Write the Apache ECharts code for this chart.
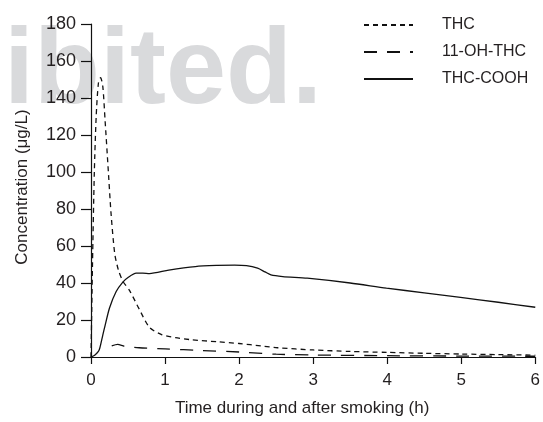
<!DOCTYPE html>
<html><head><meta charset="utf-8">
<script src="https://cdn.jsdelivr.net/npm/echarts@6/dist/echarts.min.js"></script>
<style>html,body{margin:0;padding:0;background:#fff}#c{width:543px;height:422px}</style>
</head><body><div id="c"></div>
<script>
var seriesNames = ['THC', '11-OH-THC', 'THC-COOH'];
var xTicks = [0, 1, 2, 3, 4, 5, 6];
var yTicks = [0, 20, 40, 60, 80, 100, 120, 140, 160, 180];

var thcTime = [0, 0.02, 0.045, 0.07, 0.1, 0.13, 0.16, 0.19, 0.23, 0.27, 0.32, 0.37, 0.43, 0.52, 0.65, 0.79, 0.96, 1.14, 1.36, 1.72, 2.0, 2.3, 2.52, 3.0, 3.5, 4.0, 4.5, 5.0, 5.5, 6.0];
var thcConc = [0, 50, 100, 130, 148, 151, 146, 128, 103, 78, 56, 47, 41, 36, 26, 16, 12, 10.5, 9.3, 8.2, 7.3, 6, 5, 3.8, 3, 2.5, 2, 1.6, 1.3, 1];

var ohTime = [0.28, 0.36, 0.45, 0.65, 1.0, 1.5, 2.0, 2.5, 3.0, 4.0, 5.0, 6.0];
var ohConc = [6.0, 6.8, 5.8, 5.0, 4.4, 3.5, 2.7, 1.5, 1.1, 0.7, 0.5, 0.4];

var coohTime = [0, 0.05, 0.1, 0.12, 0.16, 0.19, 0.25, 0.34, 0.43, 0.5, 0.61, 0.7, 0.79, 1.05, 1.41, 1.7, 1.94, 2.1, 2.25, 2.35, 2.43, 2.59, 2.92, 3.5, 3.99, 4.5, 4.99, 5.5, 6.0];
var coohConc = [0, 1, 3, 5, 12, 17, 26.5, 35.4, 40.5, 43, 45.3, 45.3, 45.1, 47, 48.9, 49.5, 49.7, 49.4, 48, 46, 44.4, 43.5, 42.6, 40, 37.2, 34.7, 32.2, 29.6, 26.9];

function pairs(t, c) { return t.map(function (v, i) { return [v, c[i]]; }); }

var txt = '#231f20';
var font = 'Liberation Sans, Arial, sans-serif';
var chart = echarts.init(document.getElementById('c'));
chart.setOption({
  animation: false,
  backgroundColor: '#fff',
  graphic: [{
    type: 'text', z: -10, left: 4, top: 19,
    style: { text: 'ibited.', font: 'bold 108px Liberation Sans, Arial, sans-serif', fill: '#d9dadc' }
  }],
  grid: { left: 91, right: 2, top: 24, bottom: 63 },
  legend: {
    orient: 'vertical', left: 363, top: 16, padding: 0,
    itemWidth: 49, itemHeight: 14, itemGap: 9,
    itemStyle: { opacity: 0 },
    data: seriesNames,
    textStyle: { fontFamily: font, fontSize: 16, color: txt, lineHeight: 18, padding: [0, 0, 0, 24] }
  },
  xAxis: {
    type: 'value', min: xTicks[0], max: xTicks[xTicks.length - 1], interval: 1,
    name: 'Time during and after smoking (h)', nameLocation: 'middle', nameGap: 43,
    nameTextStyle: { fontFamily: font, fontSize: 17, color: txt, padding: [0, 22, 0, 0] },
    axisLine: { lineStyle: { color: '#111', width: 1.2 } },
    axisTick: { length: 7, lineStyle: { color: '#111', width: 1.2 } },
    axisLabel: { fontFamily: font, fontSize: 17, color: txt, margin: 15 },
    splitLine: { show: false }
  },
  yAxis: {
    type: 'value', min: yTicks[0], max: yTicks[yTicks.length - 1], interval: 20,
    name: 'Concentration (μg/L)', nameLocation: 'middle', nameGap: 60,
    nameTextStyle: { fontFamily: font, fontSize: 17, color: txt, padding: [0, 0, 0, 7] },
    axisLine: { show: true, lineStyle: { color: '#111', width: 1.2 } },
    axisTick: { show: true, length: 10, lineStyle: { color: '#111', width: 1.2 } },
    axisLabel: { fontFamily: font, fontSize: 18, color: txt, margin: 15 },
    splitLine: { show: false }
  },
  series: [
    { name: seriesNames[0], type: 'line', data: pairs(thcTime, thcConc), smooth: 0.25, symbol: 'none',
      lineStyle: { color: '#111', width: 1.3, type: [5, 4] }, itemStyle: { color: '#111' } },
    { name: seriesNames[1], type: 'line', data: pairs(ohTime, ohConc), smooth: 0.25, symbol: 'none',
      lineStyle: { color: '#111', width: 1.3, type: [13, 10] }, itemStyle: { color: '#111' } },
    { name: seriesNames[2], type: 'line', data: pairs(coohTime, coohConc), smooth: 0.25, symbol: 'none',
      lineStyle: { color: '#111', width: 1.3, type: 'solid' }, itemStyle: { color: '#111' } }
  ]
});
</script></body></html>
